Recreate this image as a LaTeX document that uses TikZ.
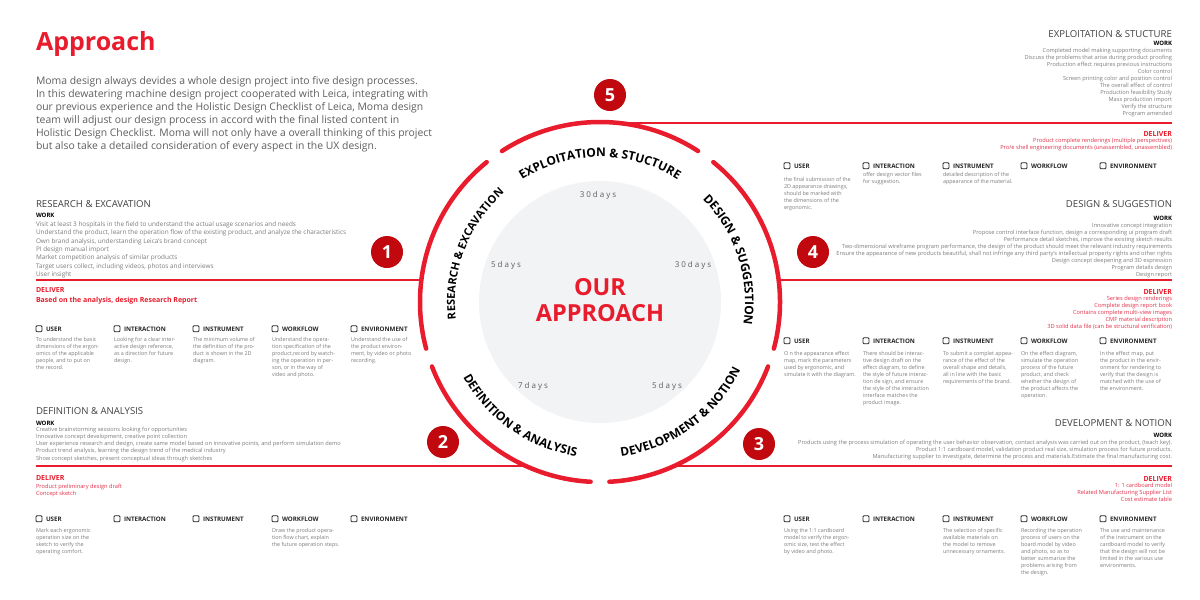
\documentclass[tikz,border=0pt]{standalone}
\usepackage{fontspec}
\setmainfont{Open Sans}
\usetikzlibrary{decorations.text}
\definecolor{ared}{RGB}{232,28,44}
\definecolor{dred}{RGB}{192,8,14}
\definecolor{pgray}{RGB}{95,95,95}
\definecolor{lgray}{RGB}{125,125,125}
\definecolor{sgray}{RGB}{64,64,64}
\definecolor{pinkred}{RGB}{226,50,75}
\definecolor{circfill}{RGB}{242,243,245}
\newcommand\fz[2]{\fontsize{#1}{#2}\selectfont}
\newcommand\ringfont{\fontsize{12}{14}\selectfont\bfseries}
\newcommand\ringfontb{\fontsize{11}{13}\selectfont\bfseries}
\newcommand\tlines[6]{%
  \foreach \tline [count=\tidx] in {#6} {
    \node[#2] (#1\tidx) at ({#3},{-(#4)-(\tidx-1)*(#5)}) {\tline};
  }%
}
\newcommand\cbox[4]{%
  \node[cb] (#1b) at ({#2+3},{-(#3)+2.3}) {};
  \node[lt,cbl] (#1) at ({#2+10},{-(#3)}) {#4};
}
\tikzset{
  txt/.style={inner sep=0pt, outer sep=0pt},
  lt/.style={txt, anchor=base west},
  rt/.style={txt, anchor=base east},
  para/.style={font=\fz{10.4}{12}, text=pgray},
  sect/.style={font=\fz{9.6}{11}, text=sgray},
  workh/.style={font=\fz{6}{7}\bfseries, text=black},
  workl/.style={font=\fz{5.65}{7}, text=lgray},
  worklb/.style={font=\fz{6.4}{7}, text=lgray},
  delh/.style={font=\fz{7}{8}\bfseries, text=ared},
  dell/.style={font=\fz{5.7}{7}, text=pinkred},
  cbl/.style={font=\fz{6.2}{7}\bfseries, text=black!85},
  desc/.style={font=\fz{5.4}{6}, text=lgray},
  ringarc/.style={draw=ared, line width=4.5pt, line cap=round},
  hline/.style={draw=ared, line width=2.5pt},
  num/.style={circle, fill=dred, minimum size=32pt, inner sep=0pt, text=white, font=\fz{18}{20}\bfseries},
  cb/.style={draw=black!85, line width=0.8pt, rounded corners=1pt, minimum size=6pt, inner sep=0pt},
  days/.style={txt, anchor=base, font=\fz{8}{9}\addfontfeature{LetterSpace=25}, text=pgray},
}
\begin{document}
\begin{tikzpicture}[x=1pt,y=1pt]
\useasboundingbox (0,0) rectangle (1200,-600);
\fill[white] (0,0) rectangle (1200,-600);

% ---------- title and paragraph
\node[lt, font=\fz{25}{30}\bfseries, text=ared] (title) at (36,-50) {Approach};
\tlines{p}{lt,para}{36}{84}{13}{
 {Moma design always devides a whole design project into five design processes.},
 {In this dewatering machine design project cooperated with Leica, integrating with},
 {our previous experience and the Holistic Design Checklist of Leica, Moma design},
 {team will adjust our design process in accord with the final listed content in},
 {Holistic Design Checklist. Moma will not only have a overall thinking of this project},
 {but also take a detailed consideration of every aspect in the UX design.}}

% ---------- horizontal red lines
\coordinate (lt1) at (619,-123); \coordinate (lt2) at (1172,-123);
\coordinate (ll1) at (36,-280);  \coordinate (ll2) at (421,-280);
\coordinate (lr1) at (779,-280); \coordinate (lr2) at (1172,-280);
\coordinate (lb1) at (36,-466);  \coordinate (lb2) at (526,-466);
\coordinate (lb3) at (674,-466); \coordinate (lb4) at (1172,-466);
\draw[hline] (lt1) -- (lt2);
\draw[hline] (ll1) -- (ll2);
\draw[hline] (lr1) -- (lr2);
\draw[hline] (lb1) -- (lb2);
\draw[hline] (lb3) -- (lb4);

% ---------- ring
\begin{scope}[shift={(600,-302)}]
\fill[circfill] (0,0) circle[radius=121pt];
\foreach \c in {90,18,-54,-126,-198}
  \draw[ringarc] (\c+33:180pt) arc[start angle=\c+33, end angle=\c-33, radius=180pt];
\path[decorate, decoration={text along path, text align=center,
  text={|\ringfont|EXPLOITATION {\&} STUCTURE}}]
  (135:145pt) arc[start angle=135, end angle=45, radius=145pt];
\path[decorate, decoration={text along path, text align=center,
  text={|\ringfont|DESIGN {\&} SUGGESTION}}]
  (63:145pt) arc[start angle=63, end angle=-27, radius=145pt];
\path[decorate, decoration={text along path, text align=center,
  text={|\ringfontb|RESEARCH {\&} EXCAVATION}}]
  (204:145pt) arc[start angle=204, end angle=114, radius=145pt];
\path[decorate, decoration={text along path, text align=center,
  text={|\ringfont|DEFINITION {\&} ANALYSIS}}]
  (-170:156pt) arc[start angle=-170, end angle=-80, radius=156pt];
\path[decorate, decoration={text along path, text align=center,
  text={|\ringfont|DEVELOPMENT {\&} NOTION}}]
  (-99:156pt) arc[start angle=-99, end angle=-9, radius=156pt];
\end{scope}

\node[txt, font=\fz{23.5}{26}\bfseries, text=ared] (our) at (600,-287) {OUR};
\node[txt, font=\fz{23.5}{26}\bfseries, text=ared] (appr) at (600,-313) {APPROACH};
\node[days] (d1) at (598,-197) {30days};
\node[days] (d2) at (506,-267) {5days};
\node[days] (d3) at (693,-267) {30days};
\node[days] (d4) at (533,-388) {7days};
\node[days] (d5) at (667,-388) {5days};

\node[num] (n5) at (610,-95) {5};
\node[num] (n1) at (387,-252) {1};
\node[num] (n4) at (813,-252) {4};
\node[num] (n2) at (443,-442) {2};
\node[num] (n3) at (759,-444) {3};

% ---------- RESEARCH & EXCAVATION
\node[lt,sect] (rt) at (36,-207) {RESEARCH \& EXCAVATION};
\node[lt,workh] (rwh) at (36,-217) {WORK};
\tlines{rw}{lt,worklb}{36}{226.5}{8.35}{
 {Visit at least 3 hospitals in the field to understand the actual usage scenarios and needs},
 {Understand the product, learn the operation flow of the existing product, and analyze the characteristics},
 {Own brand analysis, understanding Leica's brand concept},
 {PI design manual import},
 {Market competition analysis of similar products},
 {Target users collect, including videos, photos and interviews},
 {User insight}}
\node[lt,delh] (rdh) at (36,-292.5) {DELIVER};
\node[lt,font=\fz{7}{8}\bfseries,text=ared] (rd1) at (36,-302) {Based on the analysis, design Research Report};
\cbox{rc1}{36}{331}{USER}
\cbox{rc2}{114}{331}{INTERACTION}
\cbox{rc3}{193}{331}{INSTRUMENT}
\cbox{rc4}{272}{331}{WORKFLOW}
\cbox{rc5}{351}{331}{ENVIRONMENT}
\tlines{ru}{lt,desc}{36}{341}{7}{{To understand the basic},{dimensions of the ergon-},{omics of the applicable},{people, and to put on},{the record.}}
\tlines{ri}{lt,desc}{114}{341}{7}{{Looking for a clear inter-},{active design reference,},{as a direction for future},{design.}}
\tlines{rn}{lt,desc}{193}{341}{7}{{The minimum volume of},{the definition of the pro-},{duct is shown in the 2D},{diagram.}}
\tlines{rf}{lt,desc}{272}{341}{7}{{Understand the opera-},{tion specification of the},{product,record by watch-},{ing the operation in per-},{son, or in the way of},{video and photo.}}
\tlines{re}{lt,desc}{351}{341}{7}{{Understand the use of},{the product environ-},{ment, by video or photo},{recording.}}

% ---------- DEFINITION & ANALYSIS
\node[lt,sect] (dt) at (36,-414) {DEFINITION \& ANALYSIS};
\node[lt,workh] (dwh) at (36,-425) {WORK};
\tlines{dw}{lt,workl}{36}{431}{7.3}{
 {Creative brainstorming sessions looking for opportunities},
 {Innovative concept development, creative point collection},
 {User experience research and design, create same model based on innovative points, and perform simulation demo},
 {Product trend analysis, learning the design trend of the medical industry},
 {Show concept sketches, present conceptual ideas through sketches}}
\node[lt,delh] (ddh) at (36,-480.5) {DELIVER};
\tlines{dd}{lt,dell}{36}{488}{7}{{Product preliminary design draft},{Concept sketch}}
\cbox{dc1}{36}{521}{USER}
\cbox{dc2}{114}{521}{INTERACTION}
\cbox{dc3}{193}{521}{INSTRUMENT}
\cbox{dc4}{272}{521}{WORKFLOW}
\cbox{dc5}{351}{521}{ENVIRONMENT}
\tlines{du}{lt,desc}{36}{532}{7}{{Mark each ergonomic},{operation size on the},{sketch to verify the},{operating comfort.}}
\tlines{df}{lt,desc}{272}{532}{7}{{Draw the product opera-},{tion flow chart, explain},{the future operation steps.}}

% ---------- EXPLOITATION & STUCTURE
\node[rt,sect] (et) at (1172,-37) {EXPLOITATION \& STUCTURE};
\node[rt,workh] (ewh) at (1172,-45) {WORK};
\tlines{ew}{rt,workl}{1172}{52}{7.1}{
 {Completed model making supporting documents},
 {Discuss the problems that arise during product proofing},
 {Production effect requires previous instructions},
 {Color control},
 {Screen printing color and position control},
 {The overall effect of control},
 {Production feasibility Study},
 {Mass production import},
 {Verify the structure},
 {Program amended}}
\node[rt,delh] (edh) at (1172,-136) {DELIVER};
\tlines{ed}{rt,dell}{1172}{142.5}{7}{{Product complete renderings (multiple perspectives)},{Pro/e shell engineering documents (unassembled, unassembled)}}
\cbox{ec1}{784}{168}{USER}
\cbox{ec2}{863}{168}{INTERACTION}
\cbox{ec3}{943}{168}{INSTRUMENT}
\cbox{ec4}{1021}{168}{WORKFLOW}
\cbox{ec5}{1100}{168}{ENVIRONMENT}
\tlines{eu}{lt,desc}{784}{181}{7}{{the final submission of the},{2D appearance drawings,},{should be marked with},{the dimensions of the},{ergonomic.}}
\tlines{ei}{lt,desc}{863}{176}{7}{{offer design vector files},{for suggestion.}}
\tlines{en}{lt,desc}{943}{176}{7}{{detailed description of the},{appearance of the material.}}

% ---------- DESIGN & SUGGESTION
\node[rt,sect] (st) at (1172,-207) {DESIGN \& SUGGESTION};
\node[rt,workh] (swh) at (1172,-220) {WORK};
\tlines{sw}{rt,workl}{1172}{227}{7}{
 {Innovative concept integration},
 {Propose control interface function, design a corresponding ui program draft},
 {Performance detail sketches, improve the existing sketch results},
 {Two-dimensional wireframe program performance, the design of the product should meet the relevant industry requirements},
 {Ensure the appearance of new products beautiful, shall not infringe any third party's intellectual property rights and other rights},
 {Design concept deepening and 3D expression},
 {Program details design},
 {Design report}}
\node[rt,delh] (sdh) at (1172,-294) {DELIVER};
\tlines{sd}{rt,dell}{1172}{300.5}{7}{
 {Series design renderings},
 {Complete design report book},
 {Contains complete multi-view images},
 {CMF material description},
 {3D solid data file (can be structural verification)}}
\cbox{sc1}{784}{343}{USER}
\cbox{sc2}{863}{343}{INTERACTION}
\cbox{sc3}{943}{343}{INSTRUMENT}
\cbox{sc4}{1021}{343}{WORKFLOW}
\cbox{sc5}{1100}{343}{ENVIRONMENT}
\tlines{su}{lt,desc}{784}{355}{7}{{O n the appearance effect},{map, mark the parameters},{used by ergonomic, and},{simulate it with the diagram.}}
\tlines{si}{lt,desc}{863}{355}{7}{{There should be interac-},{tive design draft on the},{effect diagram, to define},{the style of future interac-},{tion de sign, and ensure},{the style of the interaction},{interface matches the},{product image.}}
\tlines{sn}{lt,desc}{943}{355}{7}{{To submit a complet appea-},{rance of the effect of the},{overall shape and details,},{all in line with the basic},{requirements of the brand.}}
\tlines{sf}{lt,desc}{1021}{355}{7}{{On the effect diagram,},{simulate the operation},{process of the future},{product, and check},{whether the design of},{the product affects the},{operation.}}
\tlines{se}{lt,desc}{1100}{355}{7}{{In the effect map, put},{the product in the envir-},{onment for rendering to},{verify that the design is},{matched with the use of},{the environment.}}

% ---------- DEVELOPMENT & NOTION
\node[rt,sect] (vt) at (1172,-426) {DEVELOPMENT \& NOTION};
\node[rt,workh] (vwh) at (1172,-437) {WORK};
\tlines{vw}{rt,workl}{1172}{444}{7.4}{
 {Products using the process simulation of operating the user behavior observation, contact analysis was carried out on the product, (teach key).},
 {Product 1:1 cardboard model, validation product real size, simulation process for future products.},
 {Manufacturing supplier to investigate, determine the process and materials.Estimate the final manufacturing cost.}}
\node[rt,delh] (vdh) at (1172,-481) {DELIVER};
\tlines{vd}{rt,dell}{1172}{487.5}{7}{{1: 1 cardboard model},{Related Manufacturing Supplier List},{Cost estimate table}}
\cbox{vc1}{784}{521}{USER}
\cbox{vc2}{863}{521}{INTERACTION}
\cbox{vc3}{943}{521}{INSTRUMENT}
\cbox{vc4}{1021}{521}{WORKFLOW}
\cbox{vc5}{1100}{521}{ENVIRONMENT}
\tlines{vu}{lt,desc}{784}{532}{7}{{Using the 1:1 cardboard},{model to verify the ergon-},{omic size, test the effect},{by video and photo.}}
\tlines{vn}{lt,desc}{943}{532}{7}{{The selection of specific},{available materials on},{the model to remove},{unnecessary ornaments.}}
\tlines{vf}{lt,desc}{1021}{532}{7}{{Recording the operation},{process of users on the},{board model by video},{and photo, so as to},{better summarize the},{problems arising from},{the design.}}
\tlines{ve}{lt,desc}{1100}{532}{7}{{The use and maintenance},{of the instrument on the},{cardboard model to verify},{that the design will not be},{limited in the various use},{environments.}}
\end{tikzpicture}
\end{document}
